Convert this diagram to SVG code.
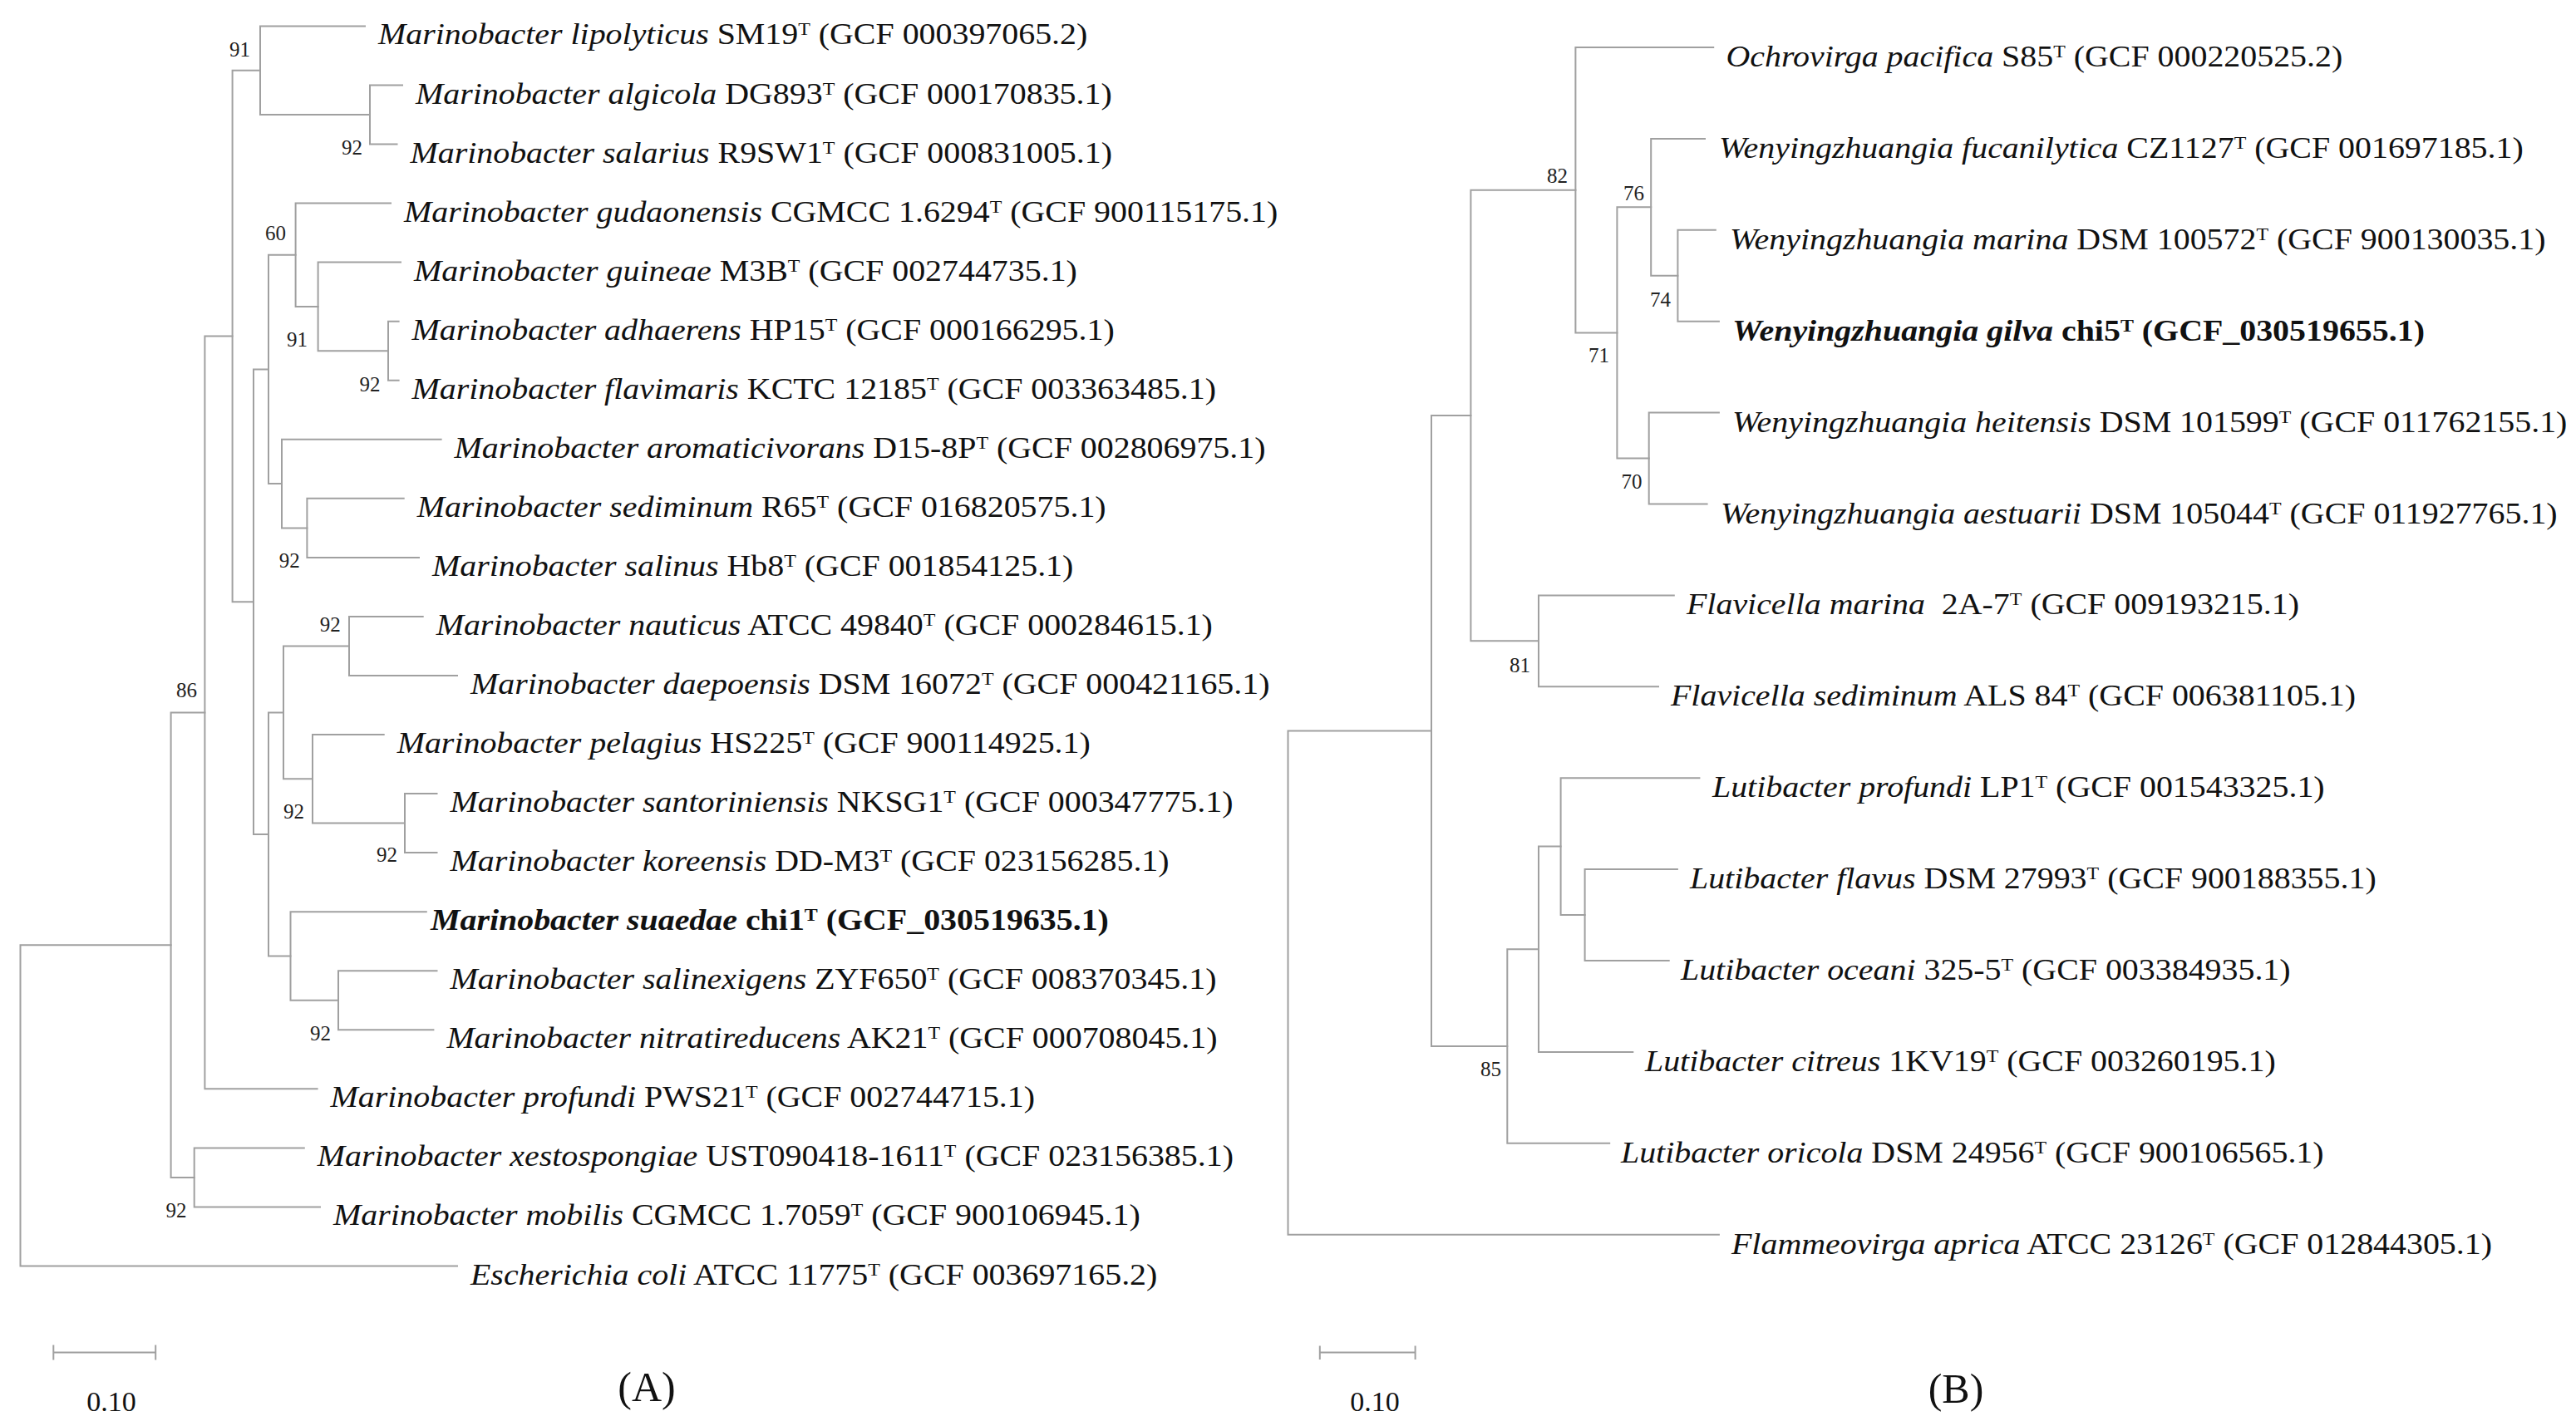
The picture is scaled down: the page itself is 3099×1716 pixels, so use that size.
<svg xmlns="http://www.w3.org/2000/svg" width="3099" height="1716" viewBox="0 0 3099 1716">
<style>
.br{fill:none;stroke:#a0a0a0;stroke-width:2;stroke-linecap:square}
.lab{font-family:"Liberation Serif","Times New Roman",serif;font-size:35px;fill:#111}
.it{font-style:italic}
.b{font-weight:bold}
.sup{font-size:21px}
.bs{font-family:"Liberation Serif","Times New Roman",serif;font-size:25px;fill:#222;text-anchor:end}
.sc{font-family:"Liberation Serif","Times New Roman",serif;font-size:34px;fill:#111;text-anchor:middle}
.pn{font-family:"Liberation Serif","Times New Roman",serif;font-size:50px;fill:#111;text-anchor:middle}
</style>
<rect width="3099" height="1716" fill="#fff"/>
<g id="connectors">
<path class="br" d="M24.5 1137.2 V1523.5 M24.5 1137.2 H205.6 M24.5 1523.5 H550"/>
<path class="br" d="M205.6 857.4 V1416.9 M205.6 857.4 H246.4 M205.6 1416.9 H233.7"/>
<path class="br" d="M246.4 404.5 V1310.3 M246.4 404.5 H279.6 M246.4 1310.3 H381.6"/>
<path class="br" d="M279.6 84.7 V724.2 M279.6 84.7 H313 M279.6 724.2 H305"/>
<path class="br" d="M313 31.4 V138 M313 31.4 H439 M313 138 H445"/>
<path class="br" d="M445 102.5 V173.5 M445 102.5 H484 M445 173.5 H477.5"/>
<path class="br" d="M305 444.4 V1004 M305 444.4 H323 M305 1004 H323"/>
<path class="br" d="M323 306.8 V582.1 M323 306.8 H355.6 M323 582.1 H339"/>
<path class="br" d="M355.6 244.6 V368.9 M355.6 244.6 H470 M355.6 368.9 H382.6"/>
<path class="br" d="M382.6 315.6 V422.2 M382.6 315.6 H482 M382.6 422.2 H467"/>
<path class="br" d="M467 386.7 V457.7 M467 386.7 H479.6 M467 457.7 H479.6"/>
<path class="br" d="M339 528.8 V635.4 M339 528.8 H530.6 M339 635.4 H369.4"/>
<path class="br" d="M369.4 599.8 V670.9 M369.4 599.8 H485.7 M369.4 670.9 H504"/>
<path class="br" d="M323 857.4 V1150.5 M323 857.4 H341 M323 1150.5 H349.5"/>
<path class="br" d="M341 777.5 V937.3 M341 777.5 H420 M341 937.3 H376"/>
<path class="br" d="M420 741.9 V813 M420 741.9 H508.7 M420 813 H550"/>
<path class="br" d="M376 884 V990.6 M376 884 H461.7 M376 990.6 H487"/>
<path class="br" d="M487 955.1 V1026.1 M487 955.1 H525.5 M487 1026.1 H525.5"/>
<path class="br" d="M349.5 1097.2 V1203.8 M349.5 1097.2 H512.8 M349.5 1203.8 H407"/>
<path class="br" d="M407 1168.2 V1239.3 M407 1168.2 H525.5 M407 1239.3 H521.4"/>
<path class="br" d="M233.7 1381.4 V1452.4 M233.7 1381.4 H365.8 M233.7 1452.4 H385"/>
<path class="br" d="M1549.5 879.5 V1485.7 M1549.5 879.5 H1722 M1549.5 1485.7 H2067.9"/>
<path class="br" d="M1722 500 V1259 M1722 500 H1769.4 M1722 1259 H1813.3"/>
<path class="br" d="M1769.4 228.7 V771.35 M1769.4 228.7 H1895.4 M1769.4 771.35 H1851"/>
<path class="br" d="M1895.4 57 V400.4 M1895.4 57 H2061.2 M1895.4 400.4 H1945.4"/>
<path class="br" d="M1945.4 249.3 V551.55 M1945.4 249.3 H1986.2 M1945.4 551.55 H1983.7"/>
<path class="br" d="M1986.2 166.9 V331.75 M1986.2 166.9 H2051 M1986.2 331.75 H2018.4"/>
<path class="br" d="M2018.4 276.8 V386.7 M2018.4 276.8 H2063.8 M2018.4 386.7 H2067.9"/>
<path class="br" d="M1983.7 496.6 V606.5 M1983.7 496.6 H2067.9 M1983.7 606.5 H2053.6"/>
<path class="br" d="M1851 716.4 V826.3 M1851 716.4 H2013.8 M1851 826.3 H1995"/>
<path class="br" d="M1813.3 1142.3 V1375.8 M1813.3 1142.3 H1851 M1813.3 1375.8 H1936.2"/>
<path class="br" d="M1851 1018.6 V1265.9 M1851 1018.6 H1877.6 M1851 1265.9 H1964.3"/>
<path class="br" d="M1877.6 936.2 V1101.05 M1877.6 936.2 H2044.4 M1877.6 1101.05 H1906.6"/>
<path class="br" d="M1906.6 1046.1 V1156 M1906.6 1046.1 H2017.9 M1906.6 1156 H2007.7"/>
</g>
<g id="bootstrap">
<text class="bs" x="301" y="68">91</text>
<text class="bs" x="436" y="186">92</text>
<text class="bs" x="344" y="288.6">60</text>
<text class="bs" x="370" y="417">91</text>
<text class="bs" x="457.6" y="470.7">92</text>
<text class="bs" x="360.7" y="683">92</text>
<text class="bs" x="237" y="839">86</text>
<text class="bs" x="409.7" y="760">92</text>
<text class="bs" x="366" y="985">92</text>
<text class="bs" x="478" y="1037">92</text>
<text class="bs" x="398" y="1251.6">92</text>
<text class="bs" x="224.5" y="1465">92</text>
<text class="bs" x="1886" y="219.6">82</text>
<text class="bs" x="1936" y="436.4">71</text>
<text class="bs" x="1978" y="241">76</text>
<text class="bs" x="2010" y="368.6">74</text>
<text class="bs" x="1975.5" y="588">70</text>
<text class="bs" x="1841" y="808.6">81</text>
<text class="bs" x="1806" y="1295">85</text>
</g>
<g id="treeA">
<g id="a01"><text class="lab" transform="matrix(1.14 0 0 1 455 53.4)"><tspan class="it">Marinobacter lipolyticus</tspan> SM19<tspan class="sup" dy="-11">T</tspan><tspan dy="11"> (GCF 000397065.2)</tspan></text></g>
<g id="a02"><text class="lab" transform="matrix(1.14 0 0 1 500 124.5)"><tspan class="it">Marinobacter algicola</tspan> DG893<tspan class="sup" dy="-11">T</tspan><tspan dy="11"> (GCF 000170835.1)</tspan></text></g>
<g id="a03"><text class="lab" transform="matrix(1.14 0 0 1 493.5 195.5)"><tspan class="it">Marinobacter salarius</tspan> R9SW1<tspan class="sup" dy="-11">T</tspan><tspan dy="11"> (GCF 000831005.1)</tspan></text></g>
<g id="a04"><text class="lab" transform="matrix(1.14 0 0 1 486 266.6)"><tspan class="it">Marinobacter gudaonensis</tspan> CGMCC 1.6294<tspan class="sup" dy="-11">T</tspan><tspan dy="11"> (GCF 900115175.1)</tspan></text></g>
<g id="a05"><text class="lab" transform="matrix(1.14 0 0 1 498 337.6)"><tspan class="it">Marinobacter guineae</tspan> M3B<tspan class="sup" dy="-11">T</tspan><tspan dy="11"> (GCF 002744735.1)</tspan></text></g>
<g id="a06"><text class="lab" transform="matrix(1.14 0 0 1 495.6 408.7)"><tspan class="it">Marinobacter adhaerens</tspan> HP15<tspan class="sup" dy="-11">T</tspan><tspan dy="11"> (GCF 000166295.1)</tspan></text></g>
<g id="a07"><text class="lab" transform="matrix(1.14 0 0 1 495.6 479.7)"><tspan class="it">Marinobacter flavimaris</tspan> KCTC 12185<tspan class="sup" dy="-11">T</tspan><tspan dy="11"> (GCF 003363485.1)</tspan></text></g>
<g id="a08"><text class="lab" transform="matrix(1.14 0 0 1 546.6 550.8)"><tspan class="it">Marinobacter aromaticivorans</tspan> D15-8P<tspan class="sup" dy="-11">T</tspan><tspan dy="11"> (GCF 002806975.1)</tspan></text></g>
<g id="a09"><text class="lab" transform="matrix(1.14 0 0 1 501.7 621.8)"><tspan class="it">Marinobacter sediminum</tspan> R65<tspan class="sup" dy="-11">T</tspan><tspan dy="11"> (GCF 016820575.1)</tspan></text></g>
<g id="a10"><text class="lab" transform="matrix(1.14 0 0 1 520 692.9)"><tspan class="it">Marinobacter salinus</tspan> Hb8<tspan class="sup" dy="-11">T</tspan><tspan dy="11"> (GCF 001854125.1)</tspan></text></g>
<g id="a11"><text class="lab" transform="matrix(1.14 0 0 1 524.7 763.9)"><tspan class="it">Marinobacter nauticus</tspan> ATCC 49840<tspan class="sup" dy="-11">T</tspan><tspan dy="11"> (GCF 000284615.1)</tspan></text></g>
<g id="a12"><text class="lab" transform="matrix(1.14 0 0 1 566 835)"><tspan class="it">Marinobacter daepoensis</tspan> DSM 16072<tspan class="sup" dy="-11">T</tspan><tspan dy="11"> (GCF 000421165.1)</tspan></text></g>
<g id="a13"><text class="lab" transform="matrix(1.14 0 0 1 477.7 906)"><tspan class="it">Marinobacter pelagius</tspan> HS225<tspan class="sup" dy="-11">T</tspan><tspan dy="11"> (GCF 900114925.1)</tspan></text></g>
<g id="a14"><text class="lab" transform="matrix(1.14 0 0 1 541.5 977.1)"><tspan class="it">Marinobacter santoriniensis</tspan> NKSG1<tspan class="sup" dy="-11">T</tspan><tspan dy="11"> (GCF 000347775.1)</tspan></text></g>
<g id="a15"><text class="lab" transform="matrix(1.14 0 0 1 541.5 1048.1)"><tspan class="it">Marinobacter koreensis</tspan> DD-M3<tspan class="sup" dy="-11">T</tspan><tspan dy="11"> (GCF 023156285.1)</tspan></text></g>
<g id="a16"><text class="lab b" transform="matrix(1.14 0 0 1 518 1119.2)"><tspan class="it">Marinobacter suaedae</tspan> chi1<tspan class="sup" dy="-11">T</tspan><tspan dy="11"> (GCF_030519635.1)</tspan></text></g>
<g id="a17"><text class="lab" transform="matrix(1.14 0 0 1 541.5 1190.2)"><tspan class="it">Marinobacter salinexigens</tspan> ZYF650<tspan class="sup" dy="-11">T</tspan><tspan dy="11"> (GCF 008370345.1)</tspan></text></g>
<g id="a18"><text class="lab" transform="matrix(1.14 0 0 1 537.4 1261.3)"><tspan class="it">Marinobacter nitratireducens</tspan> AK21<tspan class="sup" dy="-11">T</tspan><tspan dy="11"> (GCF 000708045.1)</tspan></text></g>
<g id="a19"><text class="lab" transform="matrix(1.14 0 0 1 397.6 1332.3)"><tspan class="it">Marinobacter profundi</tspan> PWS21<tspan class="sup" dy="-11">T</tspan><tspan dy="11"> (GCF 002744715.1)</tspan></text></g>
<g id="a20"><text class="lab" transform="matrix(1.14 0 0 1 381.8 1403.4)"><tspan class="it">Marinobacter xestospongiae</tspan> UST090418-1611<tspan class="sup" dy="-11">T</tspan><tspan dy="11"> (GCF 023156385.1)</tspan></text></g>
<g id="a21"><text class="lab" transform="matrix(1.14 0 0 1 401 1474.4)"><tspan class="it">Marinobacter mobilis</tspan> CGMCC 1.7059<tspan class="sup" dy="-11">T</tspan><tspan dy="11"> (GCF 900106945.1)</tspan></text></g>
<g id="a22"><text class="lab" transform="matrix(1.14 0 0 1 566 1545.5)"><tspan class="it">Escherichia coli</tspan> ATCC 11775<tspan class="sup" dy="-11">T</tspan><tspan dy="11"> (GCF 003697165.2)</tspan></text></g>
</g>
<g id="treeB">
<g id="b01"><text class="lab" transform="matrix(1.14 0 0 1 2076.5 80)"><tspan class="it">Ochrovirga pacifica</tspan> S85<tspan class="sup" dy="-11">T</tspan><tspan dy="11"> (GCF 000220525.2)</tspan></text></g>
<g id="b02"><text class="lab" transform="matrix(1.14 0 0 1 2068 189.9)"><tspan class="it">Wenyingzhuangia fucanilytica</tspan> CZ1127<tspan class="sup" dy="-11">T</tspan><tspan dy="11"> (GCF 001697185.1)</tspan></text></g>
<g id="b03"><text class="lab" transform="matrix(1.14 0 0 1 2081 299.8)"><tspan class="it">Wenyingzhuangia marina</tspan> DSM 100572<tspan class="sup" dy="-11">T</tspan><tspan dy="11"> (GCF 900130035.1)</tspan></text></g>
<g id="b04"><text class="lab b" transform="matrix(1.14 0 0 1 2084 409.7)"><tspan class="it">Wenyingzhuangia gilva</tspan> chi5<tspan class="sup" dy="-11">T</tspan><tspan dy="11"> (GCF_030519655.1)</tspan></text></g>
<g id="b05"><text class="lab" transform="matrix(1.14 0 0 1 2084 519.6)"><tspan class="it">Wenyingzhuangia heitensis</tspan> DSM 101599<tspan class="sup" dy="-11">T</tspan><tspan dy="11"> (GCF 011762155.1)</tspan></text></g>
<g id="b06"><text class="lab" transform="matrix(1.14 0 0 1 2070 629.5)"><tspan class="it">Wenyingzhuangia aestuarii</tspan> DSM 105044<tspan class="sup" dy="-11">T</tspan><tspan dy="11"> (GCF 011927765.1)</tspan></text></g>
<g id="b07"><text class="lab" transform="matrix(1.14 0 0 1 2029 739.4)" xml:space="preserve"><tspan class="it">Flavicella marina</tspan>  2A-7<tspan class="sup" dy="-11">T</tspan><tspan dy="11"> (GCF 009193215.1)</tspan></text></g>
<g id="b08"><text class="lab" transform="matrix(1.14 0 0 1 2010 849.3)"><tspan class="it">Flavicella sediminum</tspan> ALS 84<tspan class="sup" dy="-11">T</tspan><tspan dy="11"> (GCF 006381105.1)</tspan></text></g>
<g id="b09"><text class="lab" transform="matrix(1.14 0 0 1 2060 959.2)"><tspan class="it">Lutibacter profundi</tspan> LP1<tspan class="sup" dy="-11">T</tspan><tspan dy="11"> (GCF 001543325.1)</tspan></text></g>
<g id="b10"><text class="lab" transform="matrix(1.14 0 0 1 2033 1069.1)"><tspan class="it">Lutibacter flavus</tspan> DSM 27993<tspan class="sup" dy="-11">T</tspan><tspan dy="11"> (GCF 900188355.1)</tspan></text></g>
<g id="b11"><text class="lab" transform="matrix(1.14 0 0 1 2022 1179)"><tspan class="it">Lutibacter oceani</tspan> 325-5<tspan class="sup" dy="-11">T</tspan><tspan dy="11"> (GCF 003384935.1)</tspan></text></g>
<g id="b12"><text class="lab" transform="matrix(1.14 0 0 1 1979 1288.9)"><tspan class="it">Lutibacter citreus</tspan> 1KV19<tspan class="sup" dy="-11">T</tspan><tspan dy="11"> (GCF 003260195.1)</tspan></text></g>
<g id="b13"><text class="lab" transform="matrix(1.14 0 0 1 1950 1398.8)"><tspan class="it">Lutibacter oricola</tspan> DSM 24956<tspan class="sup" dy="-11">T</tspan><tspan dy="11"> (GCF 900106565.1)</tspan></text></g>
<g id="b14"><text class="lab" transform="matrix(1.14 0 0 1 2083 1508.7)"><tspan class="it">Flammeovirga aprica</tspan> ATCC 23126<tspan class="sup" dy="-11">T</tspan><tspan dy="11"> (GCF 012844305.1)</tspan></text></g>
</g>
<g id="scaleA">
<path class="br" d="M64.3 1627.6 H187.2 M64.3 1619.5 V1635.5 M187.2 1619.5 V1635.5"/>
<text class="sc" x="134" y="1698">0.10</text>
</g>
<g id="scaleB">
<path class="br" d="M1587.8 1627.6 H1702.6 M1587.8 1620.5 V1635 M1702.6 1620.5 V1635"/>
<text class="sc" x="1654" y="1698">0.10</text>
</g>
<text id="panelA" class="pn" x="778" y="1686">(A)</text>
<text id="panelB" class="pn" x="2353" y="1688">(B)</text>
</svg>
